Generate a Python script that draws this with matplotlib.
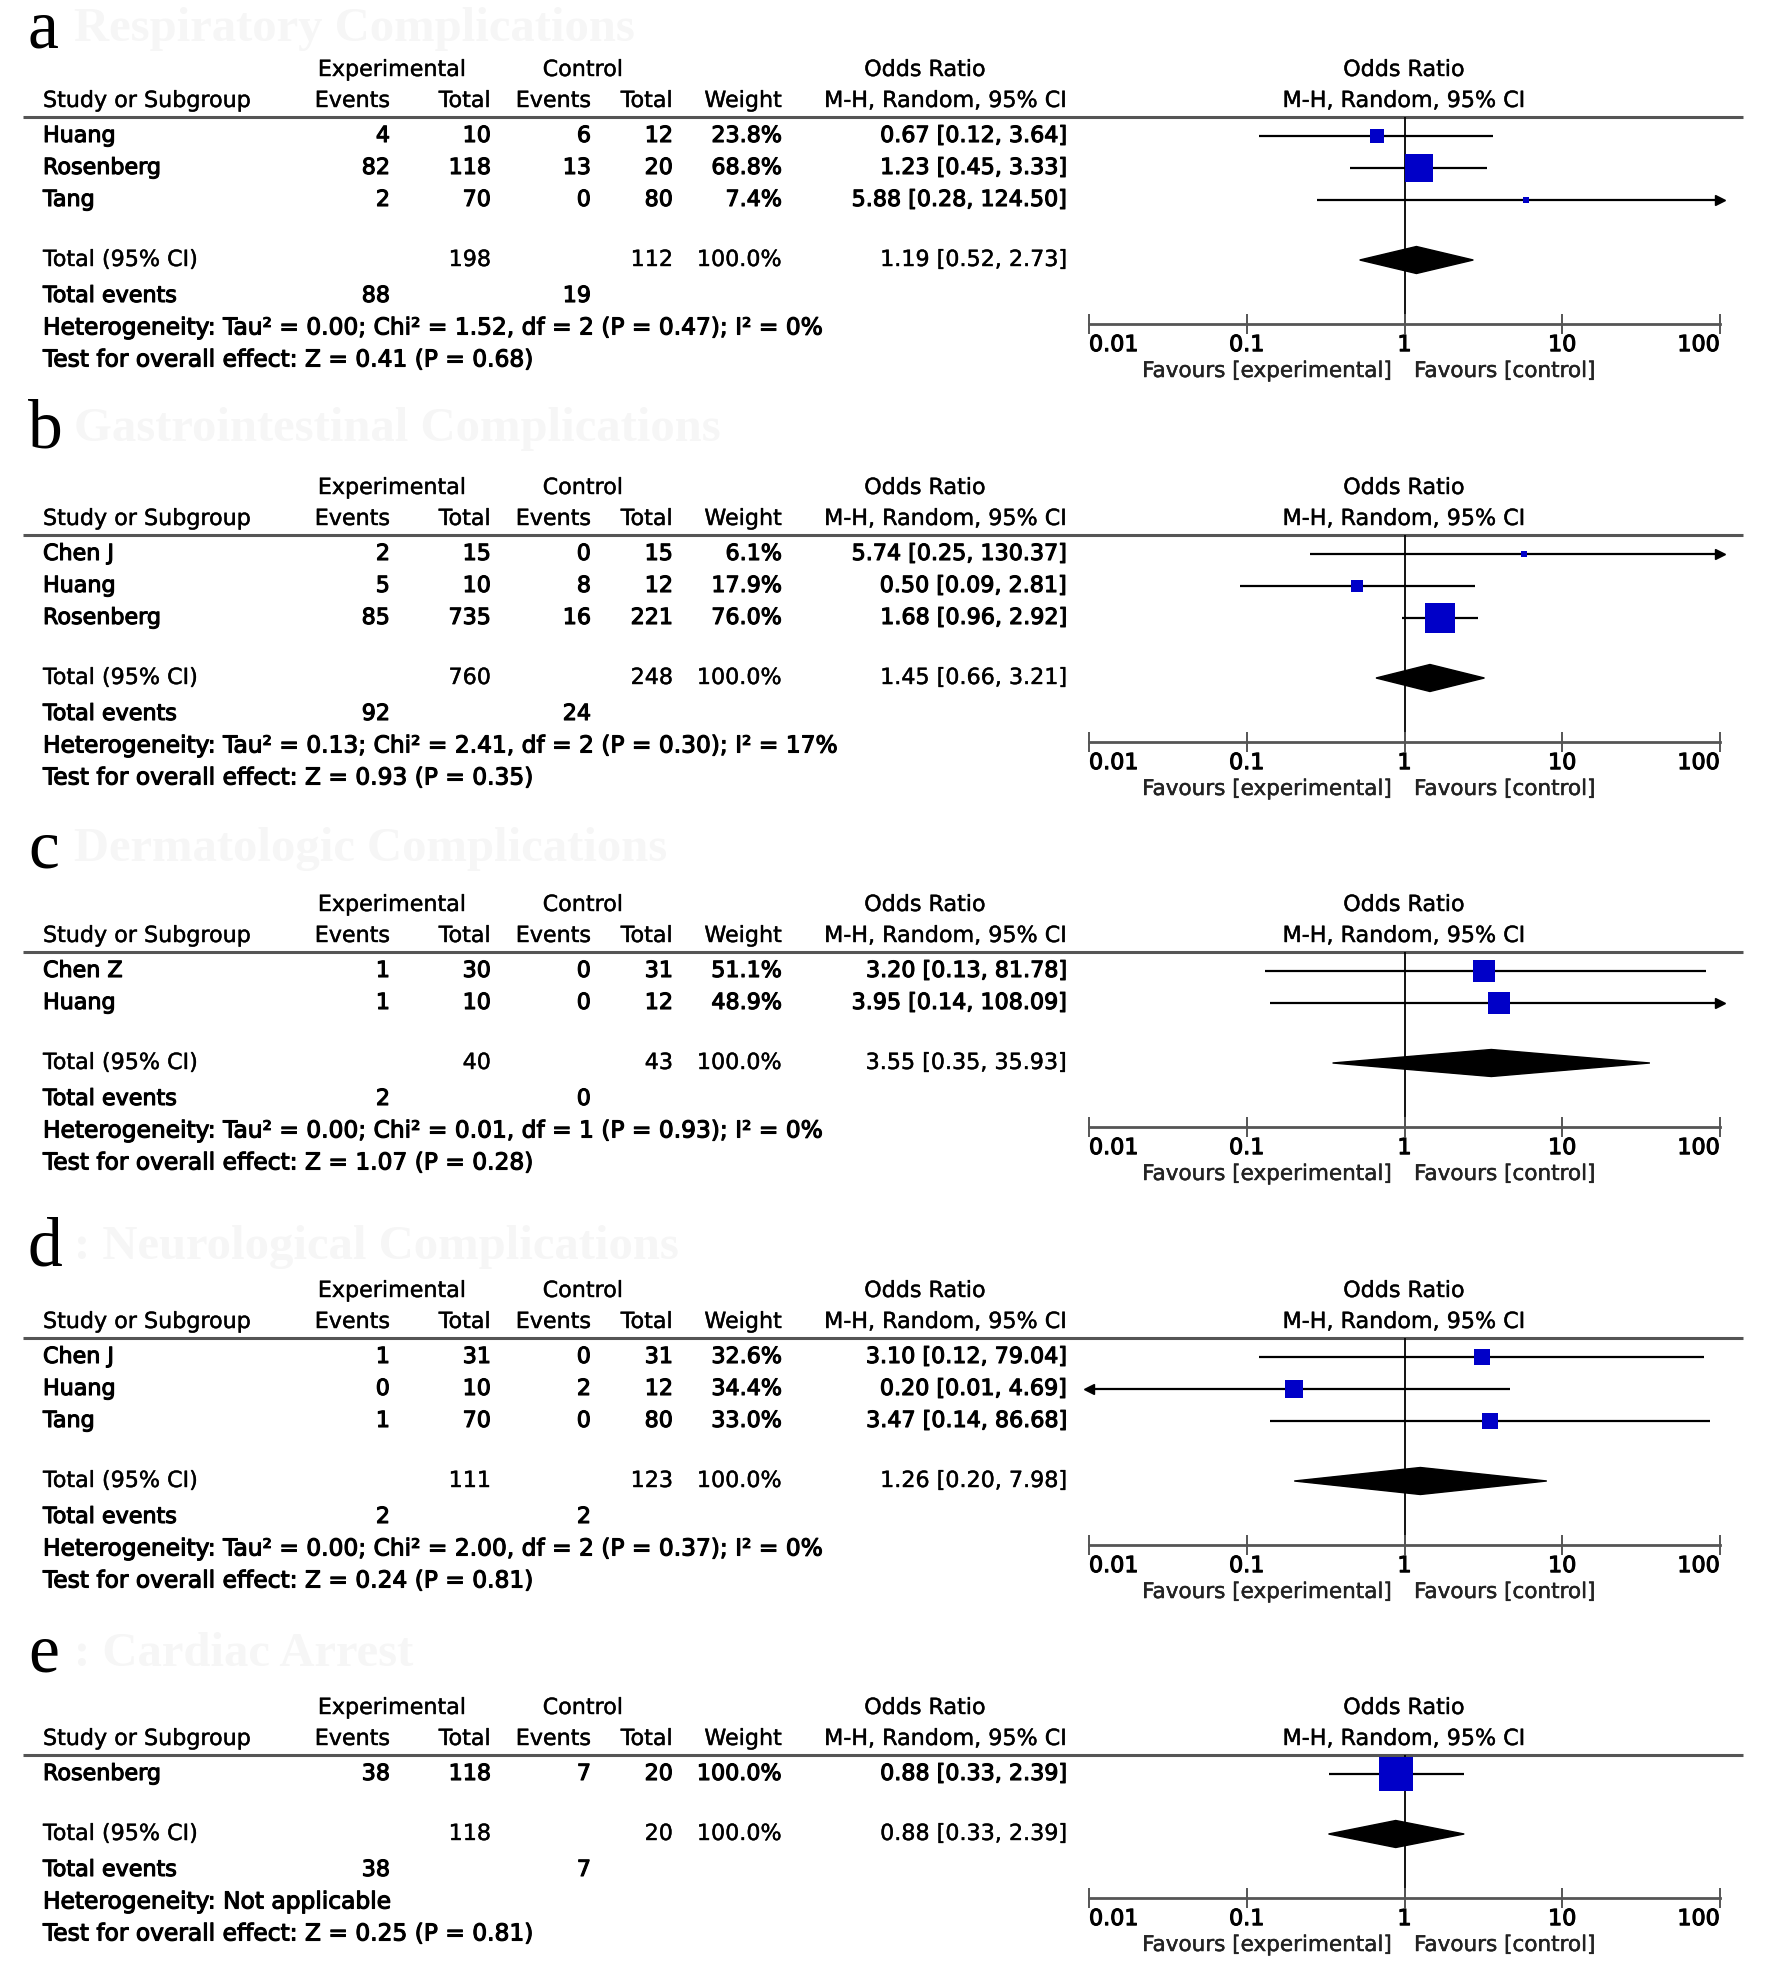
import matplotlib
matplotlib.use("Agg")
import matplotlib.pyplot as plt
from matplotlib.patches import Polygon
from matplotlib.ticker import NullLocator
import matplotlib.patheffects as pe

plt.rcParams['font.family'] = ['DejaVu Sans']

W, H = 1772, 1977

# --- a: respiratory ---
a_study = ["Huang", "Rosenberg", "Tang"]
a_exp_ev = [4, 82, 2]
a_exp_n = [10, 118, 70]
a_ctl_ev = [6, 13, 0]
a_ctl_n = [12, 20, 80]
a_weight = [23.8, 68.8, 7.4]
a_or = [0.67, 1.23, 5.88]
a_lo = [0.12, 0.45, 0.28]
a_hi = [3.64, 3.33, 124.50]
a_total = [198, 112, 1.19, 0.52, 2.73]
a_events = [88, 19]
a_het = "Heterogeneity: Tau² = 0.00; Chi² = 1.52, df = 2 (P = 0.47); I² = 0%"
a_test = "Test for overall effect: Z = 0.41 (P = 0.68)"

# --- b: gastrointestinal ---
b_study = ["Chen J", "Huang", "Rosenberg"]
b_exp_ev = [2, 5, 85]
b_exp_n = [15, 10, 735]
b_ctl_ev = [0, 8, 16]
b_ctl_n = [15, 12, 221]
b_weight = [6.1, 17.9, 76.0]
b_or = [5.74, 0.50, 1.68]
b_lo = [0.25, 0.09, 0.96]
b_hi = [130.37, 2.81, 2.92]
b_total = [760, 248, 1.45, 0.66, 3.21]
b_events = [92, 24]
b_het = "Heterogeneity: Tau² = 0.13; Chi² = 2.41, df = 2 (P = 0.30); I² = 17%"
b_test = "Test for overall effect: Z = 0.93 (P = 0.35)"

# --- c: dermatologic ---
c_study = ["Chen Z", "Huang"]
c_exp_ev = [1, 1]
c_exp_n = [30, 10]
c_ctl_ev = [0, 0]
c_ctl_n = [31, 12]
c_weight = [51.1, 48.9]
c_or = [3.20, 3.95]
c_lo = [0.13, 0.14]
c_hi = [81.78, 108.09]
c_total = [40, 43, 3.55, 0.35, 35.93]
c_events = [2, 0]
c_het = "Heterogeneity: Tau² = 0.00; Chi² = 0.01, df = 1 (P = 0.93); I² = 0%"
c_test = "Test for overall effect: Z = 1.07 (P = 0.28)"

# --- d: neurological ---
d_study = ["Chen J", "Huang", "Tang"]
d_exp_ev = [1, 0, 1]
d_exp_n = [31, 10, 70]
d_ctl_ev = [0, 2, 0]
d_ctl_n = [31, 12, 80]
d_weight = [32.6, 34.4, 33.0]
d_or = [3.10, 0.20, 3.47]
d_lo = [0.12, 0.01, 0.14]
d_hi = [79.04, 4.69, 86.68]
d_total = [111, 123, 1.26, 0.20, 7.98]
d_events = [2, 2]
d_het = "Heterogeneity: Tau² = 0.00; Chi² = 2.00, df = 2 (P = 0.37); I² = 0%"
d_test = "Test for overall effect: Z = 0.24 (P = 0.81)"

# --- e: cardiac arrest ---
e_study = ["Rosenberg"]
e_exp_ev = [38]
e_exp_n = [118]
e_ctl_ev = [7]
e_ctl_n = [20]
e_weight = [100.0]
e_or = [0.88]
e_lo = [0.33]
e_hi = [2.39]
e_total = [118, 20, 0.88, 0.33, 2.39]
e_events = [38, 7]
e_het = "Heterogeneity: Not applicable"
e_test = "Test for overall effect: Z = 0.25 (P = 0.81)"

panels = [
    ("a", "Respiratory Complications", a_study, a_exp_ev, a_exp_n, a_ctl_ev, a_ctl_n,
     a_weight, a_or, a_lo, a_hi, a_total, a_events, a_het, a_test),
    ("b", "Gastrointestinal Complications", b_study, b_exp_ev, b_exp_n, b_ctl_ev, b_ctl_n,
     b_weight, b_or, b_lo, b_hi, b_total, b_events, b_het, b_test),
    ("c", "Dermatologic Complications", c_study, c_exp_ev, c_exp_n, c_ctl_ev, c_ctl_n,
     c_weight, c_or, c_lo, c_hi, c_total, c_events, c_het, c_test),
    ("d", ": Neurological Complications", d_study, d_exp_ev, d_exp_n, d_ctl_ev, d_ctl_n,
     d_weight, d_or, d_lo, d_hi, d_total, d_events, d_het, d_test),
    ("e", ": Cardiac Arrest", e_study, e_exp_ev, e_exp_n, e_ctl_ev, e_ctl_n,
     e_weight, e_or, e_lo, e_hi, e_total, e_events, e_het, e_test),
]

# layout (pixels)
offsets = [0, 418, 835, 1221, 1638]
label_base = [47, 447, 867, 1265, 1672]
col_r = [390, 491, 591, 673, 782, 1067]
x_lo, x_hi = 1089, 1720
FS = 16
BLUE = '#0000c8'
GREY = '#555555'
bold = [pe.withStroke(linewidth=0.8, foreground='black')]
semi = [pe.withStroke(linewidth=0.35, foreground='#222222')]

fig = plt.figure(figsize=(W / 100, H / 100), dpi=100)
bg = fig.add_axes([0, 0, 1, 1])
bg.set_xlim(0, W)
bg.set_ylim(H, 0)
bg.axis('off')


def txt(x, y, s, ha='left', fs=FS, strong=False, color='black'):
    bg.text(x, y, s, ha=ha, va='center', fontsize=fs, color=color,
            path_effects=bold if strong else semi)


for k, p in enumerate(panels):
    (lab, title, study, exp_ev, exp_n, ctl_ev, ctl_n, weight, orr, lo, hi,
     total, events, het, test) = p
    off = offsets[k]
    n = len(study)
    rows = [136 + 32 * i for i in range(n)]
    tot = rows[-1] + 60
    tev = tot + 36
    hety = tev + 32
    tsty = hety + 32
    axy = hety - 4
    rule = 117

    # panel label and faint title
    bg.text(74, label_base[k] - 6, title, family='Liberation Serif',
            fontsize=35, weight='bold', color='#f6f6f6', va='baseline', ha='left')
    bg.text(28, label_base[k], lab, family='Liberation Serif', fontsize=50,
            va='baseline', ha='left', color='black')

    # header
    txt(392, off + 70, "Experimental", ha='center')
    txt(583, off + 70, "Control", ha='center')
    txt(925, off + 70, "Odds Ratio", ha='center')
    txt(1404, off + 70, "Odds Ratio", ha='center')
    txt(43, off + 101, "Study or Subgroup")
    for x, s in zip(col_r, ["Events", "Total", "Events", "Total", "Weight",
                            "M-H, Random, 95% CI"]):
        txt(x, off + 101, s, ha='right')
    txt(1404, off + 101, "M-H, Random, 95% CI", ha='center')
    bg.plot([23, 1743], [off + rule, off + rule], color=GREY, lw=2.2,
            solid_capstyle='butt')

    # study rows
    for i in range(n):
        y = off + rows[i]
        txt(43, y, study[i], strong=True)
        vals = [str(exp_ev[i]), str(exp_n[i]), str(ctl_ev[i]), str(ctl_n[i]),
                f"{weight[i]:.1f}%", f"{orr[i]:.2f} [{lo[i]:.2f}, {hi[i]:.2f}]"]
        for x, s in zip(col_r, vals):
            txt(x, y, s, ha='right', strong=True)

    # total rows
    y = off + tot
    txt(43, y, "Total (95% CI)")
    txt(col_r[1], y, str(total[0]), ha='right')
    txt(col_r[3], y, str(total[1]), ha='right')
    txt(col_r[4], y, "100.0%", ha='right')
    txt(col_r[5], y, f"{total[2]:.2f} [{total[3]:.2f}, {total[4]:.2f}]", ha='right')
    y = off + tev
    txt(43, y, "Total events", strong=True)
    txt(col_r[0], y, str(events[0]), ha='right', strong=True)
    txt(col_r[2], y, str(events[1]), ha='right', strong=True)
    txt(43, off + hety, het, strong=True, fs=16.8)
    txt(43, off + tsty, test, strong=True, fs=16.8)

    # forest plot
    ax = fig.add_axes([x_lo / W, 1 - (off + axy) / H, (x_hi - x_lo) / W, (axy - rule) / H])
    ax.set_xscale('log')
    ax.set_xlim(0.01, 100)
    ax.set_ylim(axy, rule)
    ax.patch.set_visible(False)
    for s in ['top', 'left', 'right']:
        ax.spines[s].set_visible(False)
    ax.spines['bottom'].set_color(GREY)
    ax.spines['bottom'].set_linewidth(2.0)
    ax.set_yticks([])
    ax.set_xticks([0.01, 0.1, 1, 10, 100], ["0.01", "0.1", "1", "10", "100"])
    ax.xaxis.set_minor_locator(NullLocator())
    ax.tick_params(axis='x', direction='inout', length=14, width=1.4, color=GREY,
                   labelsize=FS, pad=1)
    tl = ax.get_xticklabels()
    tl[0].set_ha('left')
    tl[-1].set_ha('right')
    for t in tl:
        t.set_path_effects(bold)
    ax.axvline(1, color='black', lw=1.3, zorder=1)

    for i in range(n):
        y = rows[i]
        ax.hlines(y, max(lo[i], 0.01), min(hi[i], 100), color='black', lw=1.6, zorder=2)
        if hi[i] > 100:
            ax.plot(100, y, marker='>', ms=7, color='black', clip_on=False, zorder=2)
        if lo[i] <= 0.01:
            ax.plot(0.01, y, marker='<', ms=7, color='black', clip_on=False, zorder=2)
        side = 1.75 * weight[i] ** 0.65 * 0.72
        ax.scatter(orr[i], y, marker='s', s=side ** 2, color=BLUE, linewidths=0,
                   zorder=3, clip_on=False)

    h = 13.5
    ax.add_patch(Polygon([(total[3], tot), (total[2], tot - h), (total[4], tot),
                          (total[2], tot + h)], closed=True, fc='black', ec='black',
                         zorder=3))

    txt(1392, off + axy + 47, "Favours [experimental]", ha='right', fs=15.5, color='#222')
    txt(1414, off + axy + 47, "Favours [control]", ha='left', fs=15.5, color='#222')

fig.savefig("out.png", dpi=100, facecolor='white')
